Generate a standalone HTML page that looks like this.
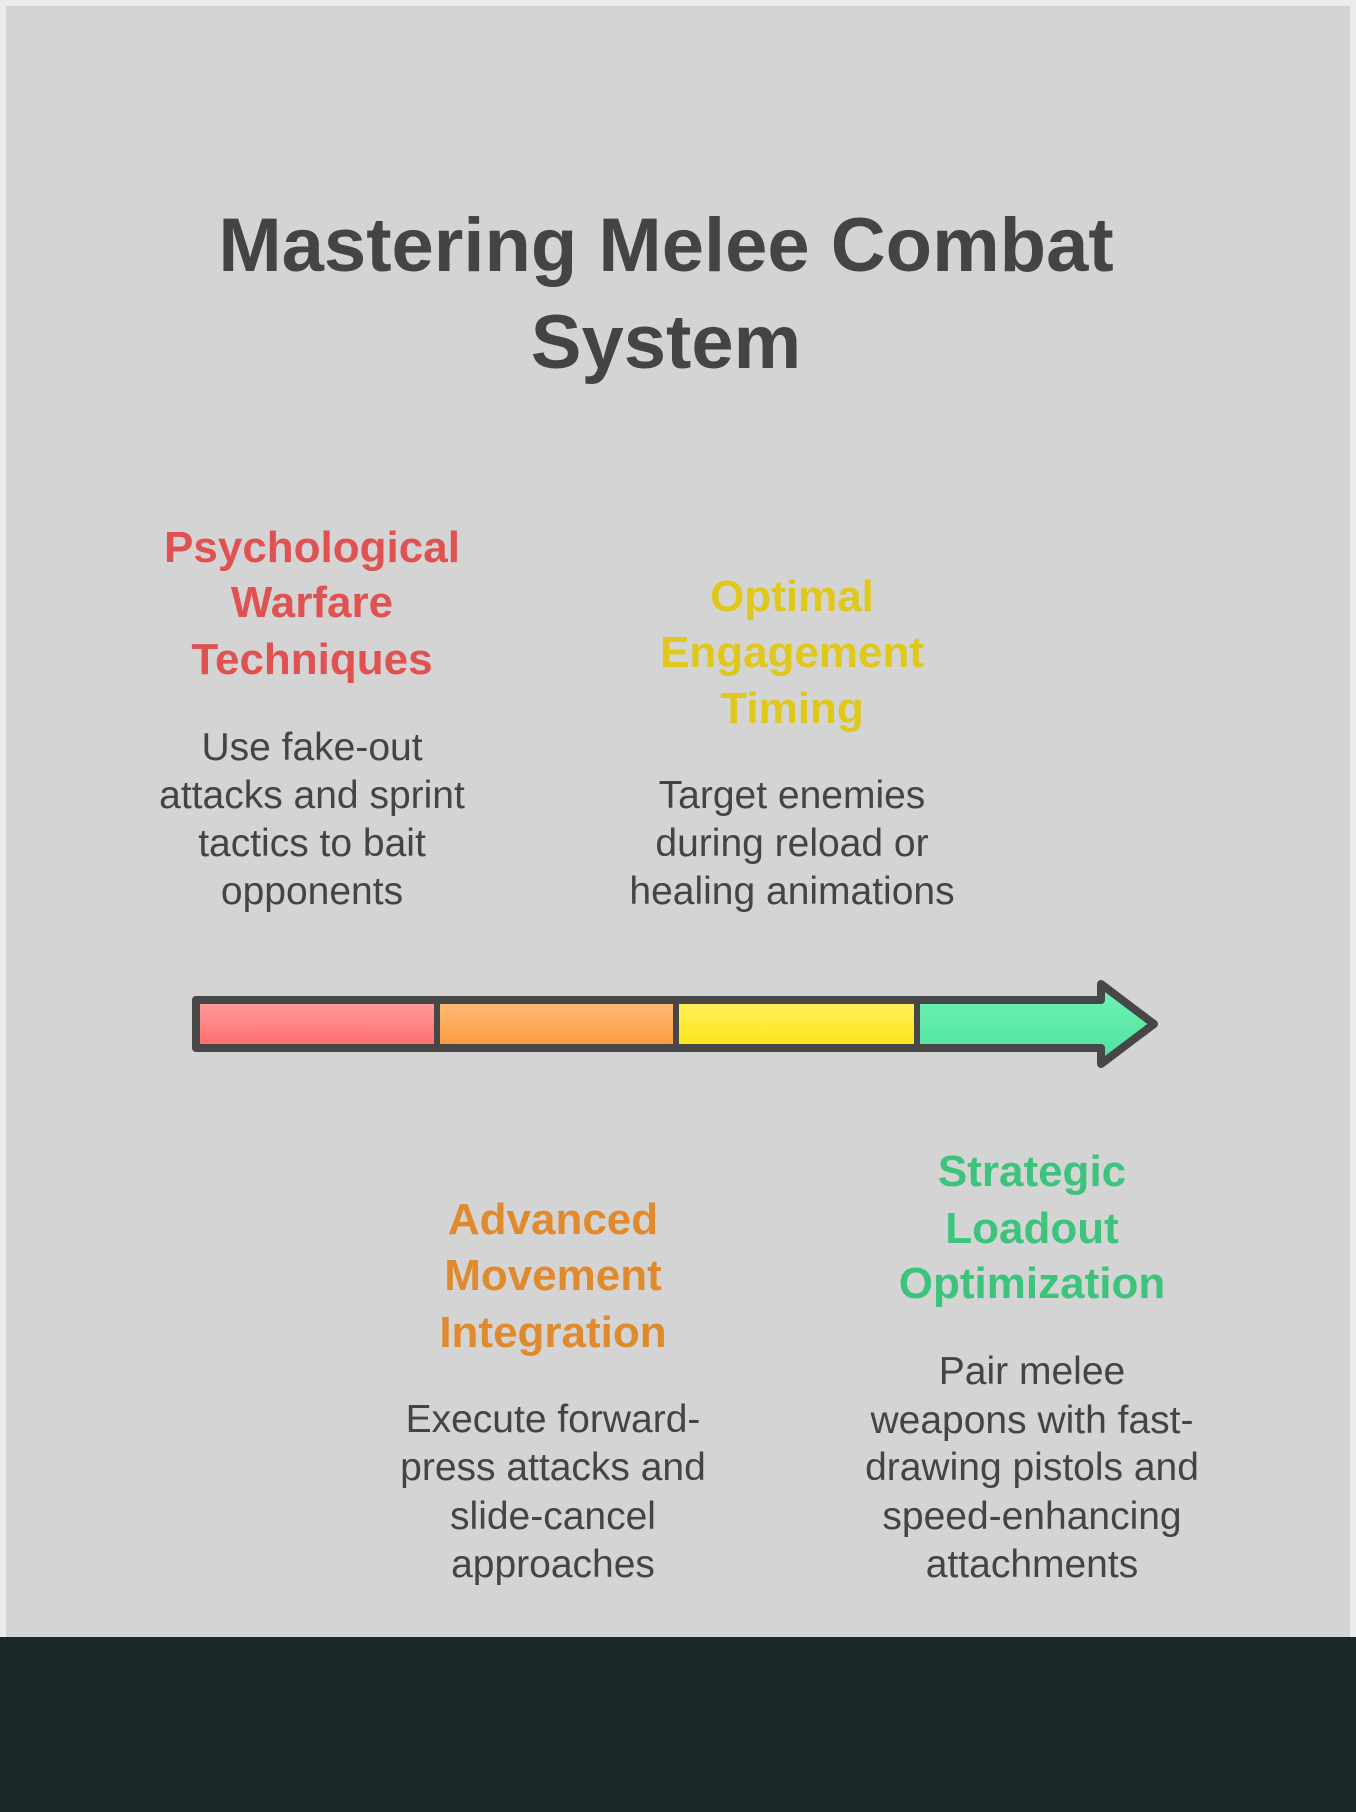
<!DOCTYPE html>
<html><head><meta charset="utf-8"><style>
body{margin:0;width:1356px;height:1812px;background:#1b2828;position:relative;overflow:hidden;font-family:"Liberation Sans",Arial,sans-serif}
.top{position:absolute;left:0;top:0;width:1356px;height:1637px;background:#ececec}
.panel{position:absolute;left:6px;top:6px;width:1344px;height:1631px;background:#d4d4d4}
.l{position:absolute;width:1000px;text-align:center;white-space:nowrap}
.t{font-weight:bold;font-size:76px;color:#444;height:96px;line-height:96px}
.h{font-weight:bold;font-size:44px;height:56px;line-height:56px}
.b{font-size:39px;color:#444;height:48px;line-height:48px}
</style></head><body>
<div class="top"></div>
<div class="panel"></div>
<div class="l t" style="left:166px;top:198px">Mastering Melee Combat</div>
<div class="l t" style="left:166px;top:295px">System</div>

<div class="l h" style="left:-188px;top:520px;color:#e05252">Psychological</div>
<div class="l h" style="left:-188px;top:575px;color:#e05252">Warfare</div>
<div class="l h" style="left:-188px;top:632px;color:#e05252">Techniques</div>
<div class="l b" style="left:-188px;top:724px">Use fake-out</div>
<div class="l b" style="left:-188px;top:772px">attacks and sprint</div>
<div class="l b" style="left:-188px;top:820px">tactics to bait</div>
<div class="l b" style="left:-188px;top:868px">opponents</div>

<div class="l h" style="left:292px;top:569px;color:#e0c81a">Optimal</div>
<div class="l h" style="left:292px;top:625px;color:#e0c81a">Engagement</div>
<div class="l h" style="left:292px;top:681px;color:#e0c81a">Timing</div>
<div class="l b" style="left:292px;top:772px">Target enemies</div>
<div class="l b" style="left:292px;top:820px">during reload or</div>
<div class="l b" style="left:292px;top:868px">healing animations</div>

<svg style="position:absolute;left:0;top:0" width="1356" height="1812">
<defs>
<linearGradient id="r" x1="0" y1="0" x2="0" y2="1"><stop offset="0" stop-color="#ff9e9e"/><stop offset="1" stop-color="#ff6b6b"/></linearGradient>
<linearGradient id="o" x1="0" y1="0" x2="0" y2="1"><stop offset="0" stop-color="#ffba7a"/><stop offset="1" stop-color="#fb9a3c"/></linearGradient>
<linearGradient id="y" x1="0" y1="0" x2="0" y2="1"><stop offset="0" stop-color="#fff060"/><stop offset="1" stop-color="#ffe414"/></linearGradient>
<linearGradient id="g" x1="0" y1="0" x2="0" y2="1"><stop offset="0" stop-color="#70f5b8"/><stop offset="1" stop-color="#4ee09c"/></linearGradient>
</defs>
<rect x="196" y="1000" width="241" height="48" fill="url(#r)"/>
<rect x="437" y="1000" width="239" height="48" fill="url(#o)"/>
<rect x="676" y="1000" width="241" height="48" fill="url(#y)"/>
<polygon points="917,1000 1101,1000 1101,984 1153,1024 1101,1063 1101,1048 917,1048" fill="url(#g)"/>
<polygon points="196,1000 1101,1000 1101,984 1154,1024 1101,1064 1101,1048 196,1048" fill="none" stroke="#474747" stroke-width="8" stroke-linejoin="round"/>
<line x1="437" y1="1000" x2="437" y2="1048" stroke="#474747" stroke-width="6"/>
<line x1="676" y1="1000" x2="676" y2="1048" stroke="#474747" stroke-width="6"/>
<line x1="917" y1="1000" x2="917" y2="1048" stroke="#474747" stroke-width="6"/>
</svg>

<div class="l h" style="left:53px;top:1192px;color:#e08a2e">Advanced</div>
<div class="l h" style="left:53px;top:1248px;color:#e08a2e">Movement</div>
<div class="l h" style="left:53px;top:1305px;color:#e08a2e">Integration</div>
<div class="l b" style="left:53px;top:1396px">Execute forward-</div>
<div class="l b" style="left:53px;top:1444px">press attacks and</div>
<div class="l b" style="left:53px;top:1493px">slide-cancel</div>
<div class="l b" style="left:53px;top:1541px">approaches</div>

<div class="l h" style="left:532px;top:1144px;color:#3cc47c">Strategic</div>
<div class="l h" style="left:532px;top:1201px;color:#3cc47c">Loadout</div>
<div class="l h" style="left:532px;top:1256px;color:#3cc47c">Optimization</div>
<div class="l b" style="left:532px;top:1348px">Pair melee</div>
<div class="l b" style="left:532px;top:1397px">weapons with fast-</div>
<div class="l b" style="left:532px;top:1444px">drawing pistols and</div>
<div class="l b" style="left:532px;top:1493px">speed-enhancing</div>
<div class="l b" style="left:532px;top:1541px">attachments</div>
</body></html>
